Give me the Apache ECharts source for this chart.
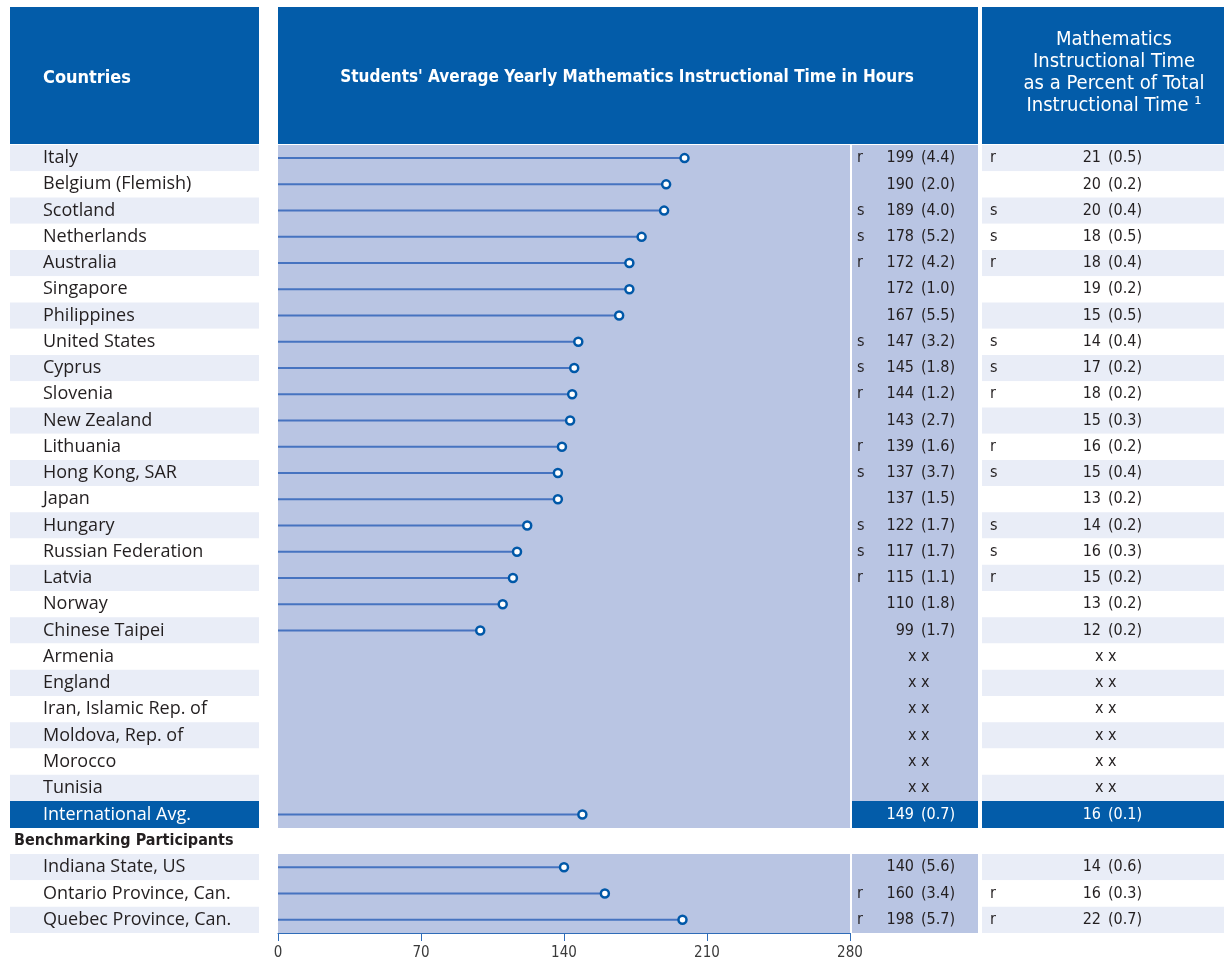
<!DOCTYPE html>
<html>
<head>
<meta charset="utf-8">
<script src="https://cdn.jsdelivr.net/npm/echarts@6/dist/echarts.min.js"></script>
<style>
  html, body { margin: 0; padding: 0; background: #ffffff; }
  #chart { width: 1230px; height: 964px; }
</style>
</head>
<body>
<div id="chart"></div>
<script>
// countries
const countries = [
  "Italy", "Belgium (Flemish)", "Scotland", "Netherlands", "Australia",
  "Singapore", "Philippines", "United States", "Cyprus", "Slovenia",
  "New Zealand", "Lithuania", "Hong Kong, SAR", "Japan", "Hungary",
  "Russian Federation", "Latvia", "Norway", "Chinese Taipei", "Armenia",
  "England", "Iran, Islamic Rep. of", "Moldova, Rep. of", "Morocco", "Tunisia",
];
const hours = [199, 190, 189, 178, 172, 172, 167, 147, 145, 144, 143, 139, 137, 137, 122, 117, 115, 110, 99, null, null, null, null, null, null];
const hoursSE = ["4.4", "2.0", "4.0", "5.2", "4.2", "1.0", "5.5", "3.2", "1.8", "1.2", "2.7", "1.6", "3.7", "1.5", "1.7", "1.7", "1.1", "1.8", "1.7", null, null, null, null, null, null];
const hoursFlag = ["r", "", "s", "s", "r", "", "", "s", "s", "r", "", "r", "s", "", "s", "s", "r", "", "", "", "", "", "", "", ""];
const percent = [21, 20, 20, 18, 18, 19, 15, 14, 17, 18, 15, 16, 15, 13, 14, 16, 15, 13, 12, null, null, null, null, null, null];
const percentSE = ["0.5", "0.2", "0.4", "0.5", "0.4", "0.2", "0.5", "0.4", "0.2", "0.2", "0.3", "0.2", "0.4", "0.2", "0.2", "0.3", "0.2", "0.2", "0.2", null, null, null, null, null, null];
const percentFlag = ["r", "", "s", "s", "r", "", "", "s", "s", "r", "", "r", "s", "", "s", "s", "r", "", "", "", "", "", "", "", ""];

// international average
const avgName = ["International Avg."];
const avgHours = [149];
const avgHoursSE = ["0.7"];
const avgPercent = [16];
const avgPercentSE = ["0.1"];

// benchmarking participants
const benchNames = ["Indiana State, US", "Ontario Province, Can.", "Quebec Province, Can."];
const benchHours = [140, 160, 198];
const benchHoursSE = ["5.6", "3.4", "5.7"];
const benchHoursFlag = ["", "r", "r"];
const benchPercent = [14, 16, 22];
const benchPercentSE = ["0.6", "0.3", "0.7"];
const benchPercentFlag = ["", "r", "r"];

const axisTicks = [0, 70, 140, 210, 280];

const BLUE = "#035ca9";
const LAV = "#b9c5e3";
const STRIPE = "#e9edf7";
const TEXT = "#231f20";
const NORMAL = '"Open Sans", "Noto Sans", sans-serif';
const COND = '"Liberation Sans Narrow", "DejaVu Sans Condensed", "Roboto", sans-serif';

const grid = [];
const xAxis = [];
const yAxis = [];
const series = [];

function valueRich(color) {
  return {
    n: { width: 28, align: "right", fontSize: 16, fontFamily: COND, color },
    e: { width: 41, align: "right", fontSize: 16, fontFamily: COND, color },
    x: { width: 47, align: "left", fontSize: 16, fontFamily: COND, color },
  };
}

function valueText(vals, se) {
  return (v, i) => (vals[i] == null ? "{x|x x}" : `{n|${vals[i]}}{e|(${se[i]})}`);
}

function catAxis(gridIndex, names, extra) {
  return Object.assign({
    gridIndex,
    type: "category",
    data: names,
    inverse: true,
    axisLine: { show: false },
    axisTick: { show: false },
  }, extra);
}

function addBlock(b) {
  const g = grid.length;
  const isAvg = !!b.avg;
  const txt = isAvg ? "#ffffff" : TEXT;
  const stripes = { show: !isAvg, areaStyle: { color: [STRIPE, "#ffffff"] } };
  const box = { top: b.top, height: b.height, borderWidth: 0 };

  grid.push(Object.assign({ left: 10, width: 249, show: isAvg, backgroundColor: BLUE }, box));
  grid.push(Object.assign({ left: 278, width: 572, show: true, backgroundColor: LAV }, box));
  grid.push(Object.assign({ left: 852, width: 126, show: true, backgroundColor: isAvg ? BLUE : LAV }, box));
  grid.push(Object.assign({ left: 982, width: 242, show: isAvg, backgroundColor: BLUE }, box));

  for (let k = 0; k < 4; k++) {
    xAxis.push({
      gridIndex: g + k,
      type: "value",
      min: axisTicks[0],
      max: axisTicks[axisTicks.length - 1],
      interval: 70,
      show: k === 1 && !!b.axis,
      splitLine: { show: false },
      axisLine: { show: true, lineStyle: { color: "#2f6cb8", width: 1 } },
      axisTick: { show: true, length: 8, lineStyle: { color: "#2f6cb8", width: 1 } },
      axisLabel: { fontSize: 15, color: "#3a3a3a", margin: 13, fontFamily: COND },
    });
  }

  // left column: names
  yAxis.push(catAxis(g, b.names, {
    position: "left",
    splitArea: stripes,
    axisLabel: { inside: true, margin: 33, interval: 0, fontSize: 18, fontFamily: NORMAL, color: txt },
  }));
  // plot column
  const plotY = yAxis.length;
  yAxis.push(catAxis(g + 1, b.names, { show: false }));
  // middle column: flag + value
  yAxis.push(catAxis(g + 2, b.names, {
    position: "left",
    axisLabel: { inside: true, margin: 5, interval: 0, fontSize: 16, fontFamily: COND, color: txt,
      formatter: (v, i) => (b.hoursFlag ? b.hoursFlag[i] : "") },
  }));
  yAxis.push(catAxis(g + 2, b.names, {
    position: "right",
    axisLabel: { inside: true, margin: 23, interval: 0, color: txt,
      formatter: valueText(b.hours, b.hoursSE), rich: valueRich(txt) },
  }));
  // right column: flag + percent
  yAxis.push(catAxis(g + 3, b.names, {
    position: "left",
    splitArea: stripes,
    axisLabel: { inside: true, margin: 8, interval: 0, fontSize: 16, fontFamily: COND, color: txt,
      formatter: (v, i) => (b.percentFlag ? b.percentFlag[i] : "") },
  }));
  yAxis.push(catAxis(g + 3, b.names, {
    position: "right",
    axisLabel: { inside: true, margin: 82, interval: 0, color: txt,
      formatter: valueText(b.percent, b.percentSE), rich: valueRich(txt) },
  }));

  series.push({
    type: "bar",
    xAxisIndex: g + 1,
    yAxisIndex: plotY,
    barWidth: 2,
    silent: true,
    itemStyle: { color: "#4673c0" },
    data: b.hours,
  });
  series.push({
    type: "scatter",
    xAxisIndex: g + 1,
    yAxisIndex: plotY,
    symbol: "circle",
    symbolSize: 8,
    silent: true,
    itemStyle: { color: "#ffffff", borderColor: "#0058a8", borderWidth: 2.5, opacity: 1 },
    data: b.hours.map((v, i) => [v, i]).filter((d) => d[0] != null),
    z: 3,
  });
}

addBlock({ names: countries, hours, hoursSE, hoursFlag, percent, percentSE, percentFlag, top: 145, height: 656 });
addBlock({ names: avgName, hours: avgHours, hoursSE: avgHoursSE, percent: avgPercent, percentSE: avgPercentSE, top: 801, height: 27, avg: true });
addBlock({ names: benchNames, hours: benchHours, hoursSE: benchHoursSE, hoursFlag: benchHoursFlag,
  percent: benchPercent, percentSE: benchPercentSE, percentFlag: benchPercentFlag, top: 854, height: 79, axis: true });

const headerText = { fill: "#ffffff", fontFamily: COND };
const graphic = [
  { type: "rect", shape: { x: 10, y: 7, width: 249, height: 137 }, style: { fill: BLUE } },
  { type: "rect", shape: { x: 278, y: 7, width: 700, height: 137 }, style: { fill: BLUE } },
  { type: "rect", shape: { x: 982, y: 7, width: 242, height: 137 }, style: { fill: BLUE } },
  { type: "text", x: 43, y: 78, style: Object.assign({ text: "Countries", fontSize: 18, fontWeight: "bold", verticalAlign: "middle" }, headerText) },
  { type: "text", x: 627, y: 78, style: Object.assign({ text: "Students' Average Yearly Mathematics Instructional Time in Hours", fontSize: 17, fontWeight: "bold", align: "center", verticalAlign: "middle" }, headerText) },
  { type: "text", x: 1114, y: 73, style: Object.assign({ text: "Mathematics\nInstructional Time\nas a Percent of Total\nInstructional Time \u00b9", fontSize: 20, lineHeight: 22, align: "center", verticalAlign: "middle" }, headerText) },
  { type: "text", x: 14, y: 841, style: { text: "Benchmarking Participants", fill: TEXT, fontFamily: COND, fontSize: 16, fontWeight: "bold", verticalAlign: "middle" } },
];

const chart = echarts.init(document.getElementById("chart"));
chart.setOption({
  animation: false,
  backgroundColor: "#ffffff",
  grid,
  xAxis,
  yAxis,
  series,
  graphic,
});
</script>
</body>
</html>
